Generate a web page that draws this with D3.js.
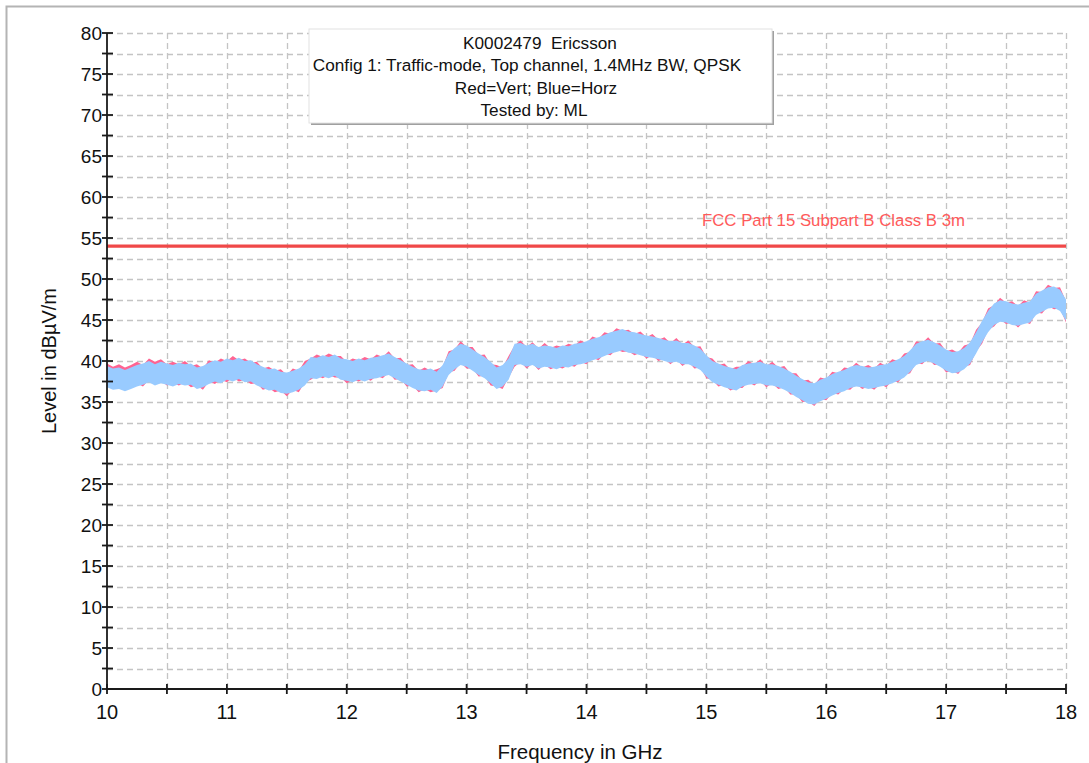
<!DOCTYPE html>
<html>
<head>
<meta charset="utf-8">
<script src="https://cdn.jsdelivr.net/npm/d3@7"></script>
<style>
  html, body { margin: 0; padding: 0; background: #fff; }
  svg { display: block; font-family: "Liberation Sans", Arial, sans-serif; }
  text { white-space: pre; }
</style>
</head>
<body>
<svg id="chart" width="1089" height="763"></svg>
<script>
// ---------------- DATA ----------------
const titleLines = [
  "K0002479  Ericsson",
  "Config 1: Traffic-mode, Top channel, 1.4MHz BW, QPSK",
  "Red=Vert; Blue=Horz",
  "Tested by: ML"
];
const xTickValues = [10, 11, 12, 13, 14, 15, 16, 17, 18];
const yTickValues = [0, 5, 10, 15, 20, 25, 30, 35, 40, 45, 50, 55, 60, 65, 70, 75, 80];
const limitLabel = "FCC Part 15 Subpart B Class B 3m";
const limitFreq = [10, 18];
const limitLevel = [54, 54];

const freqGHz = [
  10.00,10.05,10.10,10.15,10.20,10.25,10.30,10.35,10.40,10.45,
  10.50,10.55,10.60,10.65,10.70,10.75,10.80,10.85,10.90,10.95,
  11.00,11.05,11.10,11.15,11.20,11.25,11.30,11.35,11.40,11.45,
  11.50,11.55,11.60,11.65,11.70,11.75,11.80,11.85,11.90,11.95,
  12.00,12.05,12.10,12.15,12.20,12.25,12.30,12.35,12.40,12.45,
  12.50,12.55,12.60,12.65,12.70,12.75,12.80,12.85,12.90,12.95,
  13.00,13.05,13.10,13.15,13.20,13.25,13.30,13.35,13.40,13.45,
  13.50,13.55,13.60,13.65,13.70,13.75,13.80,13.85,13.90,13.95,
  14.00,14.05,14.10,14.15,14.20,14.25,14.30,14.35,14.40,14.45,
  14.50,14.55,14.60,14.65,14.70,14.75,14.80,14.85,14.90,14.95,
  15.00,15.05,15.10,15.15,15.20,15.25,15.30,15.35,15.40,15.45,
  15.50,15.55,15.60,15.65,15.70,15.75,15.80,15.85,15.90,15.95,
  16.00,16.05,16.10,16.15,16.20,16.25,16.30,16.35,16.40,16.45,
  16.50,16.55,16.60,16.65,16.70,16.75,16.80,16.85,16.90,16.95,
  17.00,17.05,17.10,17.15,17.20,17.25,17.30,17.35,17.40,17.45,
  17.50,17.55,17.60,17.65,17.70,17.75,17.80,17.85,17.90,17.95,
  18.00
];

// Horizontal polarisation (blue), dBuV/m
const horzLevel = [
  38.1,37.8,37.9,37.6,37.9,38.2,38.4,38.7,38.3,38.6,
  38.4,38.2,38.5,38.3,38.4,37.9,38.1,38.5,38.8,38.6,
  39.0,38.8,39.1,38.7,38.8,38.3,38.0,37.7,37.8,37.4,
  37.3,37.5,37.8,38.3,39.2,39.1,39.4,39.2,39.5,39.0,
  38.9,38.7,39.0,38.8,39.1,39.2,39.4,39.6,39.2,38.8,
  38.4,38.0,37.7,37.6,37.8,37.4,38.2,39.6,40.3,40.8,
  40.6,40.1,39.6,39.2,38.6,37.9,38.2,39.0,40.8,40.9,
  40.6,40.8,40.4,40.6,40.5,40.3,40.6,40.5,40.8,40.9,
  41.1,41.4,41.6,41.9,42.2,42.4,42.6,42.3,42.2,42.0,
  41.8,41.7,41.5,41.3,41.1,41.2,40.9,40.9,40.6,40.2,
  39.4,38.7,38.4,38.1,37.9,37.7,38.2,38.4,38.5,38.6,
  38.3,38.3,38.1,37.8,37.4,36.9,36.5,36.1,36.0,36.4,
  36.7,37.1,37.4,37.6,38.0,38.2,38.1,37.9,38.0,38.2,
  38.3,38.6,38.9,39.3,40.0,40.8,41.1,41.3,41.0,40.6,
  40.1,39.8,39.9,40.3,41.0,42.2,43.6,44.8,45.7,46.1,
  46.0,45.7,45.6,45.8,46.0,46.9,47.3,47.7,47.8,47.4,
  46.2
];

// Vertical polarisation (red), dBuV/m
const vertLevel = [
  38.4,38.0,38.3,37.9,38.2,38.6,38.2,39.0,38.6,38.9,
  38.3,38.6,38.3,38.7,38.1,38.3,37.8,38.8,38.5,39.0,
  38.7,39.3,38.8,39.0,38.5,38.6,37.8,38.0,37.5,37.7,
  37.0,37.8,37.5,38.7,39.0,39.5,39.2,39.6,39.3,39.3,
  38.6,39.0,38.8,39.2,38.9,39.5,39.2,39.9,39.0,39.1,
  38.2,38.3,37.5,37.9,37.5,37.7,38.0,39.9,40.1,41.1,
  40.4,40.4,39.4,39.5,38.3,38.2,37.9,39.3,40.6,41.2,
  40.4,41.0,40.2,40.9,40.3,40.6,40.4,40.8,40.6,41.2,
  40.9,41.7,41.4,42.2,42.0,42.7,42.4,42.5,42.0,42.3,
  41.6,42.0,41.3,41.6,40.9,41.5,40.7,41.2,40.4,40.5,
  39.2,39.0,38.2,38.4,37.7,38.0,38.0,38.7,38.3,38.9,
  38.1,38.6,37.9,38.1,37.2,37.2,36.3,36.4,35.8,36.7,
  36.5,37.4,37.2,37.9,37.8,38.5,37.9,38.2,37.8,38.5,
  38.1,38.9,38.7,39.6,39.8,41.1,40.9,41.6,40.8,40.9,
  39.9,40.1,39.7,40.6,40.8,42.5,43.4,45.1,45.5,46.4,
  45.8,46.0,45.4,46.1,45.8,47.2,47.1,48.0,47.6,47.7,
  46.0
];

// ---------------- LAYOUT ----------------
const svg = d3.select("#chart");
const W = 1089, H = 763;
const plot = { left: 107, right: 1066, top: 33, bottom: 689 };
const bandHalf = 1.3; // dB half thickness of the drawn trace

const x = d3.scaleLinear().domain([10, 18]).range([plot.left, plot.right]);
const y = d3.scaleLinear().domain([0, 80]).range([plot.bottom, plot.top]);

// outer frame
svg.append("rect").attr("x", 0).attr("y", 0).attr("width", W).attr("height", H).attr("fill", "#fff");
svg.append("path")
  .attr("d", `M6.5,${H} L6.5,6.5 L${W},6.5`)
  .attr("fill", "none").attr("stroke", "#b4b4b4").attr("stroke-width", 2);

// grid
const xGrid = d3.range(10.5, 18.01, 0.5);
const yGrid = d3.range(2.5, 80.01, 2.5);
const grid = svg.append("g").attr("stroke", "#c4c4c4").attr("stroke-width", 1.3)
  .attr("stroke-dasharray", "6,4").attr("fill", "none");
grid.selectAll(".gx").data(xGrid).join("line")
  .attr("x1", d => Math.round(x(d)) + 0.5).attr("x2", d => Math.round(x(d)) + 0.5)
  .attr("y1", plot.top).attr("y2", plot.bottom);
grid.selectAll(".gy").data(yGrid).join("line")
  .attr("x1", plot.left).attr("x2", plot.right)
  .attr("y1", d => Math.round(y(d)) + 0.5).attr("y2", d => Math.round(y(d)) + 0.5);

// clip
svg.append("clipPath").attr("id", "clip").append("rect")
  .attr("x", plot.left).attr("y", plot.top)
  .attr("width", plot.right - plot.left).attr("height", plot.bottom - plot.top);

const vertData = freqGHz.map((f, i) => ({ f, v: vertLevel[i] }));
const horzData = freqGHz.map((f, i) => ({ f, v: horzLevel[i] }));

const band = d3.area()
  .x(d => x(d.f))
  .y0(d => y(d.v - bandHalf))
  .y1(d => y(d.v + bandHalf))
  .curve(d3.curveLinear);

const traces = svg.append("g").attr("clip-path", "url(#clip)");
traces.append("path").datum(vertData).attr("d", band).attr("fill", "#ff6492");
traces.append("path").datum(horzData).attr("d", band).attr("fill", "#99cbff");

// limit line
const limitData = limitFreq.map((f, i) => ({ f, v: limitLevel[i] }));
svg.append("path").datum(limitData)
  .attr("d", d3.line().x(d => x(d.f)).y(d => y(d.v)))
  .attr("stroke", "#f04848").attr("stroke-width", 3.2).attr("fill", "none");
svg.append("text")
  .attr("x", 702).attr("y", 226)
  .attr("font-size", 16.8).attr("fill", "#ff5a5a")
  .text(limitLabel);

// axes
const axisColor = "#1a1a1a";
const yMinor = d3.range(0, 80.01, 2.5);
const xMinor = d3.range(10, 18.01, 0.5);
const ax = svg.append("g").attr("stroke", axisColor).attr("stroke-width", 1.8);
ax.append("line").attr("x1", plot.left).attr("x2", plot.left).attr("y1", plot.top).attr("y2", plot.bottom);
ax.append("line").attr("x1", plot.left).attr("x2", plot.right).attr("y1", plot.bottom).attr("y2", plot.bottom);
ax.selectAll(".ty").data(yMinor).join("line")
  .attr("x1", plot.left - 5).attr("x2", plot.left + 6)
  .attr("y1", d => y(d)).attr("y2", d => y(d));
ax.selectAll(".tx").data(xMinor).join("line")
  .attr("x1", d => x(d)).attr("x2", d => x(d))
  .attr("y1", plot.bottom - 5).attr("y2", plot.bottom + 5);

// tick labels
svg.append("g").selectAll("text").data(yTickValues).join("text")
  .attr("x", plot.left - 5).attr("y", d => y(d))
  .attr("dy", "0.36em").attr("text-anchor", "end")
  .attr("font-size", 19).attr("fill", "#111")
  .text(d => d);
svg.append("g").selectAll("text").data(xTickValues).join("text")
  .attr("x", d => x(d)).attr("y", 719)
  .attr("text-anchor", "middle")
  .attr("font-size", 20).attr("fill", "#111")
  .text(d => d);

// axis titles
svg.append("text")
  .attr("x", 580).attr("y", 759)
  .attr("text-anchor", "middle").attr("font-size", 20.5).attr("fill", "#111")
  .text("Frequency in GHz");
svg.append("text")
  .attr("transform", "translate(56,361) rotate(-90)")
  .attr("text-anchor", "middle").attr("font-size", 20).attr("fill", "#111")
  .text("Level in dBµV/m");

// title box
const box = { x: 309, y: 29, w: 463, h: 94 };
const titleCenters = [540, 527, 536, 534];
svg.append("rect").attr("x", box.x + 2).attr("y", box.y + 2).attr("width", box.w).attr("height", box.h)
  .attr("fill", "#a0a0a0");
svg.append("rect").attr("x", box.x).attr("y", box.y).attr("width", box.w).attr("height", box.h)
  .attr("fill", "#fff").attr("stroke", "#e2e2e2").attr("stroke-width", 1);
svg.append("g").selectAll("text").data(titleLines).join("text")
  .attr("x", (d, i) => titleCenters[i]).attr("y", (d, i) => 49 + i * 22.3)
  .attr("text-anchor", "middle").attr("font-size", 17.2).attr("fill", "#111")
  .text(d => d);
</script>
</body>
</html>
